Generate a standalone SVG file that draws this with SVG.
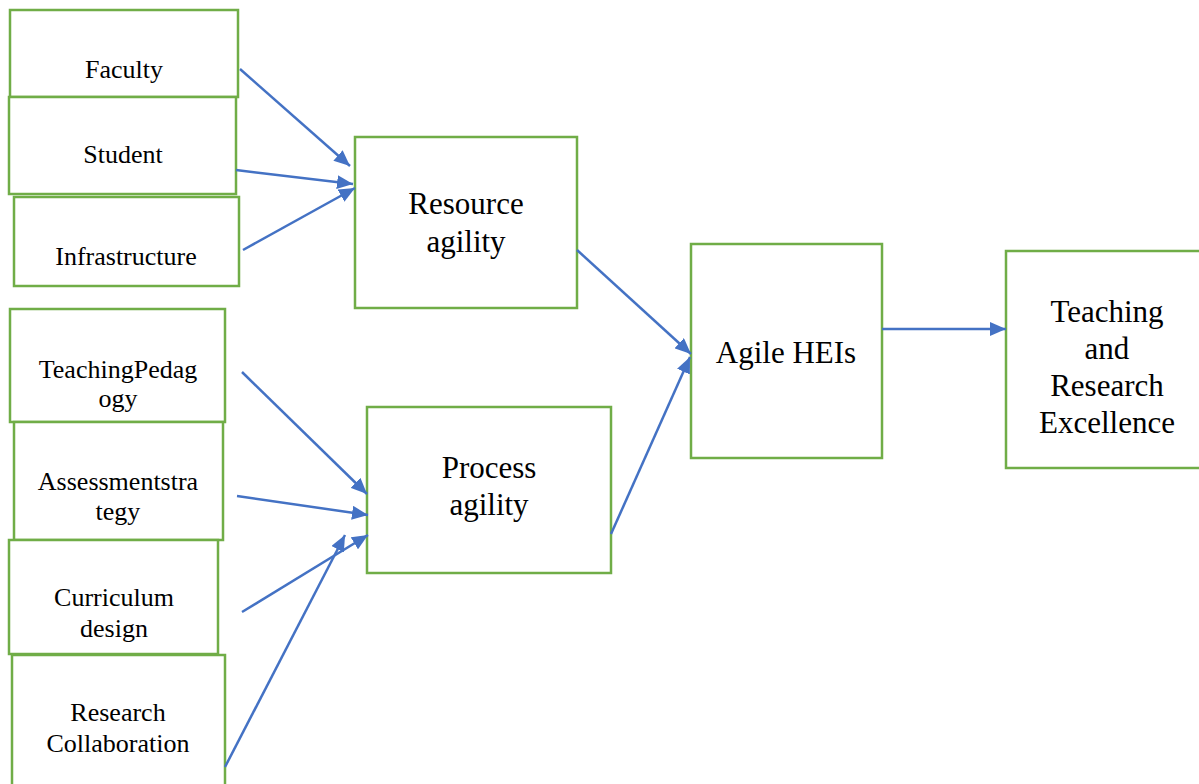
<svg xmlns="http://www.w3.org/2000/svg" width="1199" height="784" viewBox="0 0 1199 784">
<style>
.box{fill:#fff;stroke:#70AD47;stroke-width:2.5}
.s{font-family:"Liberation Serif","Times New Roman",serif;font-size:26px;fill:#000;text-anchor:middle}
.b{font-family:"Liberation Serif","Times New Roman",serif;font-size:31px;fill:#000;text-anchor:middle}
.c{stroke:#4472C4;stroke-width:2.5;fill:none;marker-end:url(#ah)}
</style>
<defs>
<marker id="ah" markerUnits="userSpaceOnUse" markerWidth="17" markerHeight="14" refX="16" refY="7" orient="auto">
<path d="M0,0 L16,7 L0,14 z" fill="#4472C4"/>
</marker>
</defs>
<rect width="1199" height="784" fill="#fff"/>
<g id="faculty"><rect class="box" x="10" y="10" width="228" height="87"/><text class="s" x="124" y="78">Faculty</text></g>
<g id="student"><rect class="box" x="9" y="97" width="227" height="97"/><text class="s" x="123" y="163">Student</text></g>
<g id="infrastructure"><rect class="box" x="14" y="197" width="225" height="89"/><text class="s" x="126" y="265">Infrastructure</text></g>
<g id="resource"><rect class="box" x="355" y="137" width="222" height="171"/><text class="b" x="466" y="214">Resource</text><text class="b" x="466" y="252">agility</text></g>
<g id="teaching"><rect class="box" x="10" y="309" width="215" height="113"/><text class="s" x="118" y="378">TeachingPedag</text><text class="s" x="118" y="407">ogy</text></g>
<g id="assessment"><rect class="box" x="14" y="422" width="209" height="118"/><text class="s" x="118" y="490">Assessmentstra</text><text class="s" x="118" y="520">tegy</text></g>
<g id="curriculum"><rect class="box" x="9" y="540" width="209" height="114"/><text class="s" x="114" y="606">Curriculum</text><text class="s" x="114" y="637">design</text></g>
<g id="research"><rect class="box" x="12" y="655" width="213" height="140"/><text class="s" x="118" y="721">Research</text><text class="s" x="118" y="752">Collaboration</text></g>
<g id="process"><rect class="box" x="367" y="407" width="244" height="166"/><text class="b" x="489" y="478">Process</text><text class="b" x="489" y="515">agility</text></g>
<g id="agile"><rect class="box" x="691" y="244" width="191" height="214"/><text class="b" x="786" y="363">Agile HEIs</text></g>
<g id="excellence"><rect class="box" x="1006" y="251" width="200" height="217"/><text class="b" x="1107" y="322">Teaching</text><text class="b" x="1107" y="359">and</text><text class="b" x="1107" y="396">Research</text><text class="b" x="1107" y="433">Excellence</text></g>
<g id="connectors">
<line class="c" x1="240" y1="69" x2="350" y2="166"/>
<line class="c" x1="236" y1="170" x2="353" y2="184"/>
<line class="c" x1="243" y1="250" x2="355" y2="188"/>
<line class="c" x1="242" y1="372" x2="367" y2="494"/>
<line class="c" x1="237" y1="496" x2="368" y2="515"/>
<line class="c" x1="242" y1="612" x2="368" y2="535"/>
<line class="c" x1="225" y1="767" x2="345" y2="535"/>
<line class="c" x1="577" y1="250" x2="691" y2="354"/>
<line class="c" x1="611" y1="534" x2="690" y2="357"/>
<line class="c" x1="882" y1="329" x2="1006" y2="329"/>
</g>
</svg>
